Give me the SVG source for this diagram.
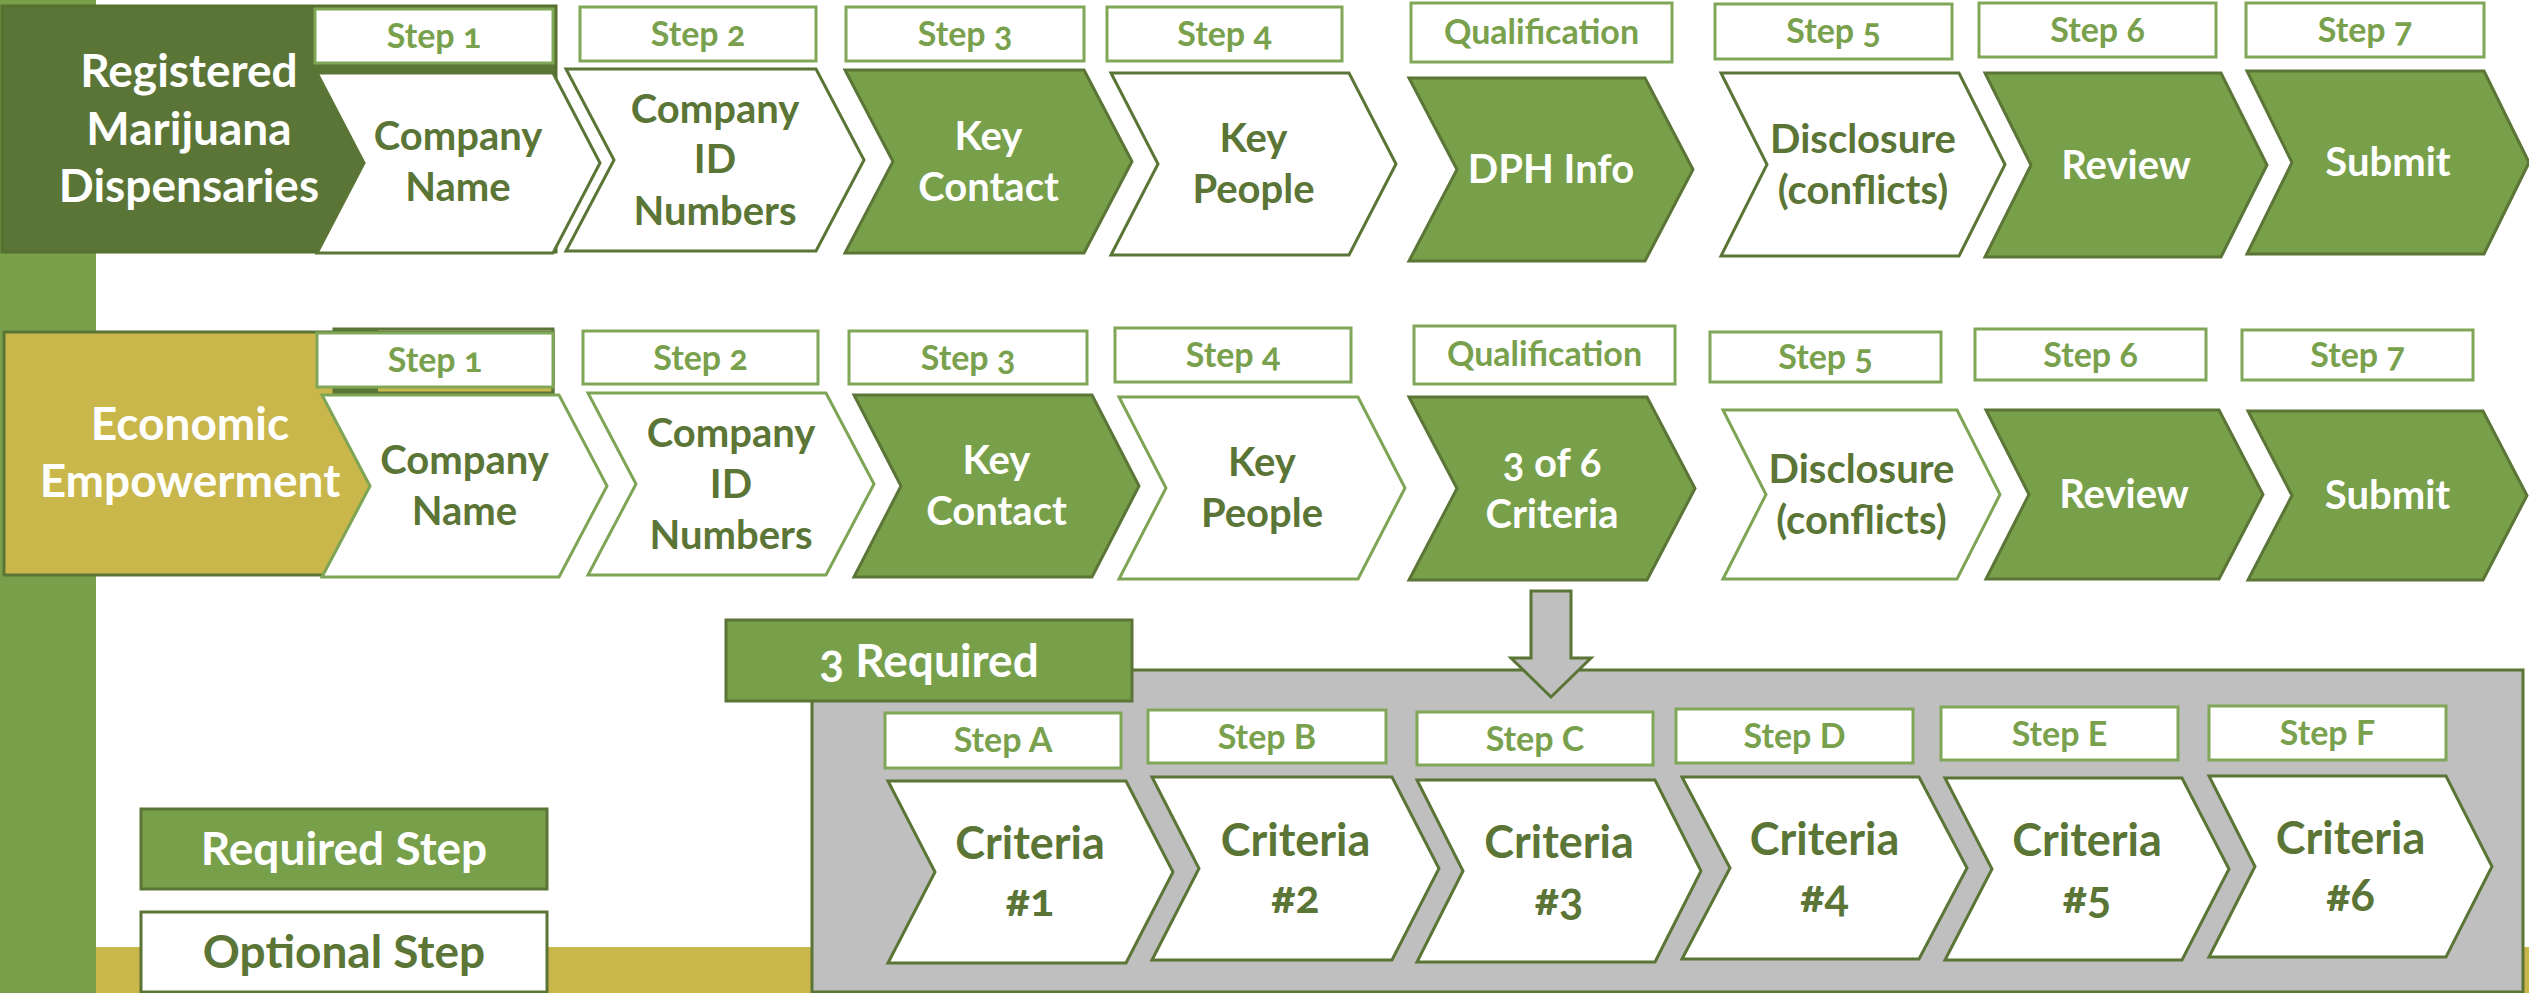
<svg xmlns="http://www.w3.org/2000/svg" width="2529" height="993" viewBox="0 0 2529 993">
<style>
.req{fill:#78a04b;stroke:#5a7535;stroke-width:3}
.optd{fill:#fff;stroke:#5a7535;stroke-width:3}
.optl{fill:#fff;stroke:#7ea555;stroke-width:3}
.lbl{fill:#fff;stroke:#80a758;stroke-width:3}
.t{font-family:Lato,"Open Sans","DejaVu Sans",sans-serif;font-weight:700;text-anchor:middle;font-variant-numeric:oldstyle-nums}
.w{fill:#fff}.d{fill:#5a7535}.l{fill:#79a14d}
.s{font-size:34px}.m{font-size:40px}.b{font-size:46px}.c{font-size:45px}
</style>
<rect x="0" y="0" width="2529" height="993" fill="#fff"/>
<rect x="96" y="947" width="2433" height="46" fill="#c9b74c"/>
<rect x="0" y="0" width="96" height="993" fill="#78a04b"/>

<g id="header-rmd">
<rect x="2" y="6" width="554" height="246" fill="#5a7535" stroke="#56702f" stroke-width="3"/>
<text class="t w b" x="189" y="87">Registered</text>
<text class="t w b" x="189" y="145">Marijuana</text>
<text class="t w b" x="189" y="202">Dispensaries</text>
</g>
<g id="header-ee">
<rect x="4" y="332" width="549" height="243" fill="#c9b74c" stroke="#5a7535" stroke-width="3"/>
<rect x="334" y="329" width="44" height="64" fill="#5a7535"/>
<rect x="334" y="329" width="219" height="64" fill="none" stroke="#5a7535" stroke-width="3"/>
<text class="t w b" x="190" y="440">Economic</text>
<text class="t w b" x="190" y="497">Empowerment</text>
</g>

<!-- Row 1 -->
<g id="r1-step1"><rect class="lbl" x="315" y="9" width="238" height="54"/><text class="t l s" x="434" y="48">Step 1</text></g>
<g id="r1-step2"><rect class="lbl" x="580" y="7" width="236" height="54"/><text class="t l s" x="698" y="46">Step 2</text></g>
<g id="r1-step3"><rect class="lbl" x="846" y="7" width="238" height="54"/><text class="t l s" x="965" y="46">Step 3</text></g>
<g id="r1-step4"><rect class="lbl" x="1107" y="7" width="235" height="54"/><text class="t l s" x="1224.5" y="46">Step 4</text></g>
<g id="r1-qual"><rect class="lbl" x="1411" y="3" width="261" height="59"/><text class="t l s" x="1541.5" y="44">Qualification</text></g>
<g id="r1-step5"><rect class="lbl" x="1715" y="4" width="237" height="55"/><text class="t l s" x="1833.5" y="43">Step 5</text></g>
<g id="r1-step6"><rect class="lbl" x="1979" y="3" width="237" height="54"/><text class="t l s" x="2097.5" y="42">Step 6</text></g>
<g id="r1-step7"><rect class="lbl" x="2246" y="3" width="238" height="54"/><text class="t l s" x="2365" y="42">Step 7</text></g>

<g id="r1-company-name"><polygon class="optd" points="317,73 553,73 600,163 553,253 317,253 364,163"/>
<text class="t d m" x="458" y="150">Company</text><text class="t d m" x="458" y="201">Name</text></g>
<g id="r1-company-id"><polygon class="optd" points="566,69 816,69 864,160 816,251 566,251 614,160"/>
<text class="t d m" x="715" y="123">Company</text><text class="t d m" x="715" y="173">ID</text><text class="t d m" x="715" y="225">Numbers</text></g>
<g id="r1-key-contact"><polygon class="req" points="845,70 1084,70 1132,161.5 1084,253 845,253 893,161.5"/>
<text class="t w m" x="988.5" y="150">Key</text><text class="t w m" x="988.5" y="201">Contact</text></g>
<g id="r1-key-people"><polygon class="optd" points="1111,73 1349,73 1396,164 1349,255 1111,255 1158,164"/>
<text class="t d m" x="1253.5" y="152">Key</text><text class="t d m" x="1253.5" y="203">People</text></g>
<g id="r1-dph"><polygon class="req" points="1409,78 1645,78 1693,169.5 1645,261 1409,261 1457,169.5"/>
<text class="t w m" x="1551" y="183">DPH Info</text></g>
<g id="r1-disclosure"><polygon class="optd" points="1721,73 1959,73 2005,164.5 1959,256 1721,256 1767,164.5"/>
<text class="t d m" x="1863" y="152.5">Disclosure</text><text class="t d m" x="1863" y="203.5">(conflicts)</text></g>
<g id="r1-review"><polygon class="req" points="1985,73 2221,73 2267,165 2221,257 1985,257 2031,165"/>
<text class="t w m" x="2126" y="178.5">Review</text></g>
<g id="r1-submit"><polygon class="req" points="2247,71 2484,71 2529,162.5 2484,254 2247,254 2292,162.5"/>
<text class="t w m" x="2388" y="176">Submit</text></g>

<!-- Row 2 -->
<g id="r2-step1"><rect class="lbl" x="317" y="333" width="236" height="54"/><text class="t l s" x="435" y="372">Step 1</text></g>
<g id="r2-step2"><rect class="lbl" x="583" y="331" width="235" height="53"/><text class="t l s" x="700.5" y="369.5">Step 2</text></g>
<g id="r2-step3"><rect class="lbl" x="849" y="331" width="238" height="53"/><text class="t l s" x="968" y="369.5">Step 3</text></g>
<g id="r2-step4"><rect class="lbl" x="1115" y="328" width="236" height="54"/><text class="t l s" x="1233" y="367">Step 4</text></g>
<g id="r2-qual"><rect class="lbl" x="1414" y="326" width="261" height="58"/><text class="t l s" x="1544.5" y="366">Qualification</text></g>
<g id="r2-step5"><rect class="lbl" x="1710" y="332" width="231" height="50"/><text class="t l s" x="1825.5" y="369">Step 5</text></g>
<g id="r2-step6"><rect class="lbl" x="1975" y="329" width="231" height="51"/><text class="t l s" x="2090.5" y="366.5">Step 6</text></g>
<g id="r2-step7"><rect class="lbl" x="2242" y="330" width="231" height="50"/><text class="t l s" x="2357.5" y="367">Step 7</text></g>

<g id="r2-company-name"><polygon class="optl" points="322,395 559,395 607,486 559,577 322,577 370,486"/>
<text class="t d m" x="464.5" y="474">Company</text><text class="t d m" x="464.5" y="525">Name</text></g>
<g id="r2-company-id"><polygon class="optl" points="588,393 826,393 874,484 826,575 588,575 636,484"/>
<text class="t d m" x="731" y="446.5">Company</text><text class="t d m" x="731" y="497.5">ID</text><text class="t d m" x="731" y="548.5">Numbers</text></g>
<g id="r2-key-contact"><polygon class="req" points="854,395 1092,395 1139,486 1092,577 854,577 901,486"/>
<text class="t w m" x="996.5" y="474">Key</text><text class="t w m" x="996.5" y="525">Contact</text></g>
<g id="r2-key-people"><polygon class="optl" points="1119,397 1358,397 1405,488 1358,579 1119,579 1166,488"/>
<text class="t d m" x="1262" y="476">Key</text><text class="t d m" x="1262" y="527">People</text></g>
<g id="r2-criteria"><polygon class="req" points="1409,397 1647,397 1695,488.5 1647,580 1409,580 1457,488.5"/>
<text class="t w m" x="1552" y="476.5">3 of 6</text><text class="t w m" x="1552" y="527.5">Criteria</text></g>
<g id="r2-disclosure"><polygon class="optl" points="1723,410 1957,410 2000,494.5 1957,579 1723,579 1766,494.5"/>
<text class="t d m" x="1861.5" y="482.5">Disclosure</text><text class="t d m" x="1861.5" y="533.5">(conflicts)</text></g>
<g id="r2-review"><polygon class="req" points="1986,410 2219,410 2263,494.5 2219,579 1986,579 2029,494.5"/>
<text class="t w m" x="2124" y="508">Review</text></g>
<g id="r2-submit"><polygon class="req" points="2248,411 2483,411 2527,495.5 2483,580 2248,580 2292,495.5"/>
<text class="t w m" x="2387.5" y="509">Submit</text></g>

<!-- Criteria panel -->
<g id="criteria-panel">
<rect x="812" y="670" width="1711" height="322" fill="#bfbfbf" stroke="#5a7535" stroke-width="3"/>
</g>
<g id="three-required">
<rect x="726" y="620" width="406" height="81" fill="#78a04b" stroke="#5a7535" stroke-width="3"/>
<text class="t w b" x="929" y="677">3 Required</text>
</g>

<g id="connectors">
<polygon points="1531,591 1571,591 1571,658 1591,658 1551,697 1511,658 1531,658" fill="#bfbfbf" stroke="#5a7535" stroke-width="3"/>
</g>

<g id="stepA"><rect class="lbl" x="885" y="713" width="236" height="55"/><text class="t l s" x="1003" y="752">Step A</text></g>
<g id="stepB"><rect class="lbl" x="1148" y="710" width="238" height="53"/><text class="t l s" x="1267" y="748.5">Step B</text></g>
<g id="stepC"><rect class="lbl" x="1417" y="712" width="236" height="53"/><text class="t l s" x="1535" y="750.5">Step C</text></g>
<g id="stepD"><rect class="lbl" x="1676" y="709" width="237" height="54"/><text class="t l s" x="1794.5" y="748">Step D</text></g>
<g id="stepE"><rect class="lbl" x="1941" y="707" width="237" height="53"/><text class="t l s" x="2059.5" y="745.5">Step E</text></g>
<g id="stepF"><rect class="lbl" x="2209" y="706" width="237" height="54"/><text class="t l s" x="2327.5" y="745">Step F</text></g>

<g id="criteria-1"><polygon class="optd" points="888,781 1126,781 1173,872 1126,963 888,963 935,872"/>
<text class="t d c" x="1030" y="859">Criteria</text><text class="t d c" x="1030" y="916">#1</text></g>
<g id="criteria-2"><polygon class="optd" stroke-width="5" points="1152,777 1392,777 1439,868.5 1392,960 1152,960 1199,868.5"/>
<text class="t d c" x="1295.5" y="855.5">Criteria</text><text class="t d c" x="1295.5" y="912.5">#2</text></g>
<g id="criteria-3"><polygon class="optd" points="1417,780 1655,780 1701,871 1655,962 1417,962 1463,871"/>
<text class="t d c" x="1559" y="858">Criteria</text><text class="t d c" x="1559" y="915">#3</text></g>
<g id="criteria-4"><polygon class="optd" points="1682,777 1919,777 1967,868 1919,959 1682,959 1730,868"/>
<text class="t d c" x="1824.5" y="855">Criteria</text><text class="t d c" x="1824.5" y="912">#4</text></g>
<g id="criteria-5"><polygon class="optd" points="1945,778 2182,778 2229,869 2182,960 1945,960 1992,869"/>
<text class="t d c" x="2087" y="856">Criteria</text><text class="t d c" x="2087" y="913">#5</text></g>
<g id="criteria-6"><polygon class="optd" points="2209,776 2446,776 2492,866.5 2446,957 2209,957 2255,866.5"/>
<text class="t d c" x="2350.5" y="853.5">Criteria</text><text class="t d c" x="2350.5" y="910.5">#6</text></g>

<g id="legend-required">
<rect x="141" y="809" width="406" height="80" fill="#78a04b" stroke="#5a7535" stroke-width="3"/>
<text class="t w b" x="344" y="865">Required Step</text>
</g>
<g id="legend-optional">
<rect x="141" y="912" width="406" height="80" fill="#fff" stroke="#5a7535" stroke-width="3"/>
<text class="t d b" x="344" y="968">Optional Step</text>
</g>
</svg>
